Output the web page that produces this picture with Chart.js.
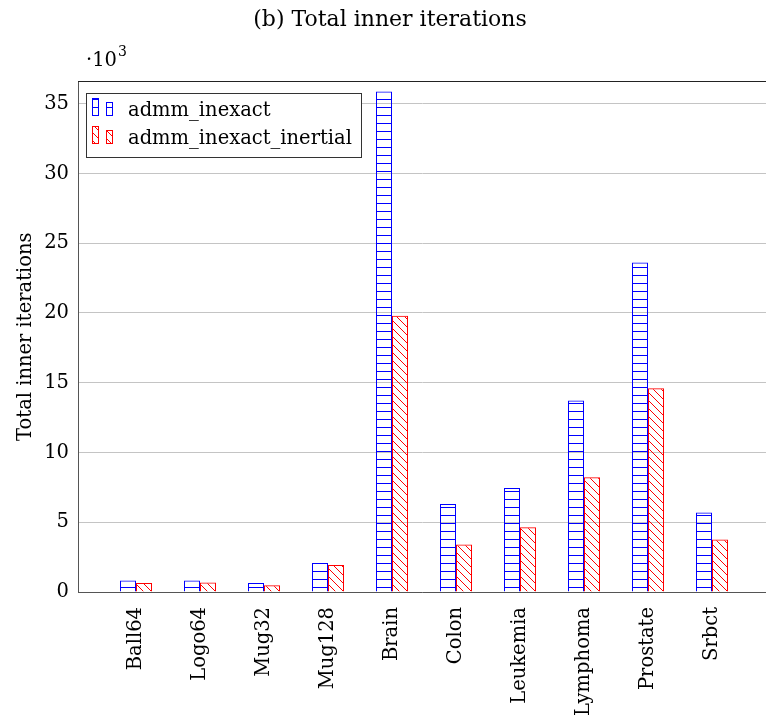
<!DOCTYPE html>
<html>
<head>
<meta charset="utf-8">
<script src="https://cdn.jsdelivr.net/npm/chart.js@4.4.1/dist/chart.umd.min.js"></script>
<style>
  html, body { margin: 0; padding: 0; background: #fff; }
  canvas { display: block; }
</style>
</head>
<body>
<canvas id="chart" width="766" height="727"></canvas>
<script>
// Test problems on the horizontal axis
const categories = ['Ball64', 'Logo64', 'Mug32', 'Mug128', 'Brain', 'Colon', 'Leukemia', 'Lymphoma', 'Prostate', 'Srbct'];
// Total inner iterations per solver
const inexact         = [820, 820, 650, 2080, 35880, 6300, 7450, 13720, 23610, 5700];
const inexactInertial = [650, 680, 480, 1940, 19810, 3400, 4650, 8220, 14610, 3760];
const seriesNames = ['admm_inexact', 'admm_inexact_inertial'];
// Vertical ticks (raw counts, labelled in thousands)
const yTicks = [0, 5000, 10000, 15000, 20000, 25000, 30000, 35000];

const FONT = "'DejaVu Serif', serif";
const canvas = document.getElementById('chart');
const mainCtx = canvas.getContext('2d');

// Hatch fills: horizontal lines (blue) and north-west diagonals (red)
function hatch(color, kind) {
  const tile = document.createElement('canvas');
  tile.width = 8; tile.height = 8;
  const g = tile.getContext('2d');
  g.fillStyle = color;
  for (let i = 0; i < 8; i++) {
    if (kind === 'h') g.fillRect(i, 3, 1, 1);
    else g.fillRect(i, i, 1, 1);
  }
  return mainCtx.createPattern(tile, 'repeat');
}
const bluePattern = hatch('#0000ff', 'h');
const redPattern = hatch('#ff0000', 'd');

// Framed legend in the upper-left corner of the plot
const boxedLegend = {
  id: 'boxedLegend',
  afterDraw(chart) {
    const { ctx, chartArea } = chart;
    const x = Math.round(chartArea.left) + 8;
    const y = Math.round(chartArea.top) + 12;
    const w = 275, h = 64;
    ctx.save();
    ctx.fillStyle = '#fff';
    ctx.fillRect(x, y, w, h);
    ctx.strokeStyle = '#333';
    ctx.lineWidth = 1;
    ctx.strokeRect(x + 0.5, y + 0.5, w, h);
    chart.data.datasets.forEach((ds, i) => {
      const base = y + 23 + i * 28;
      ctx.fillStyle = ds.backgroundColor;
      ctx.strokeStyle = ds.borderColor;
      ctx.fillRect(x + 6, base - 18, 7, 18);
      ctx.strokeRect(x + 6.5, base - 17.5, 6, 17);
      ctx.fillRect(x + 20, base - 14, 7, 14);
      ctx.strokeRect(x + 20.5, base - 13.5, 6, 13);
      ctx.fillStyle = '#000';
      ctx.font = '19.5px ' + FONT;
      ctx.textBaseline = 'alphabetic';
      ctx.textAlign = 'left';
      ctx.fillText(ds.label, x + 42, base);
    });
    ctx.restore();
  }
};

// Top edge of the axis box and the ·10^3 scale factor
const axisExtras = {
  id: 'axisExtras',
  afterDatasetsDraw(chart) {
    const { ctx, chartArea } = chart;
    ctx.save();
    ctx.strokeStyle = '#222';
    ctx.lineWidth = 1;
    ctx.beginPath();
    ctx.moveTo(chartArea.left, Math.round(chartArea.top) + 0.5);
    ctx.lineTo(chartArea.right, Math.round(chartArea.top) + 0.5);
    ctx.stroke();
    ctx.fillStyle = '#000';
    ctx.textBaseline = 'alphabetic';
    ctx.textAlign = 'left';
    ctx.font = '19.5px ' + FONT;
    const x0 = chartArea.left + 8;
    ctx.fillText('·10', x0, chartArea.top - 15);
    const wx = ctx.measureText('·10').width;
    ctx.font = '14px ' + FONT;
    ctx.fillText('3', x0 + wx + 1, chartArea.top - 25);
    ctx.restore();
  }
};

new Chart(canvas, {
  type: 'bar',
  data: {
    datasets: [
      {
        label: seriesNames[0],
        data: inexact.map((v, i) => ({ x: i, y: v })),
        backgroundColor: bluePattern,
        borderColor: '#0000ff',
        borderWidth: 1
      },
      {
        label: seriesNames[1],
        data: inexactInertial.map((v, i) => ({ x: i, y: v })),
        backgroundColor: redPattern,
        borderColor: '#ff0000',
        borderWidth: 1
      }
    ]
  },
  options: {
    responsive: false,
    devicePixelRatio: 1,
    animation: false,
    categoryPercentage: 0.5,
    barPercentage: 1.0,
    layout: { padding: { left: 14, right: 0, top: 0, bottom: 0 } },
    plugins: {
      legend: { display: false },
      tooltip: { enabled: false },
      title: {
        display: true,
        text: '(b) Total inner iterations',
        color: '#000',
        font: { family: FONT, size: 22, weight: 'normal' },
        padding: { top: 7, bottom: 48 }
      }
    },
    scales: {
      x: {
        type: 'linear',
        offset: false,
        min: -0.90625,
        max: 9.84375,
        afterBuildTicks: (s) => { s.ticks = categories.map((_, i) => ({ value: i })); },
        afterFit: (s) => { s.height = 135; },
        grid: { display: false, drawTicks: false, offset: false },
        border: { display: true, color: '#555', width: 1 },
        ticks: {
          autoSkip: false,
          minRotation: 90,
          maxRotation: 90,
          padding: 15,
          color: '#000',
          font: { family: FONT, size: 19.5 },
          callback: (v) => categories[v]
        }
      },
      y: {
        min: 0,
        max: 36600,
        afterBuildTicks: (s) => { s.ticks = yTicks.map((v) => ({ value: v })); },
        afterFit: (s) => { s.width = 64; },
        grid: { color: '#c4c4c4', lineWidth: 1, drawTicks: false },
        border: { display: true, color: '#555', width: 1 },
        ticks: {
          padding: 9,
          color: '#000',
          font: { family: FONT, size: 19.5 },
          callback: (v) => String(v / 1000)
        },
        title: {
          display: true,
          text: 'Total inner iterations',
          color: '#000',
          font: { family: FONT, size: 19.5 },
          padding: { top: 0, bottom: 0 }
        }
      }
    }
  },
  plugins: [axisExtras, boxedLegend]
});
</script>
</body>
</html>
